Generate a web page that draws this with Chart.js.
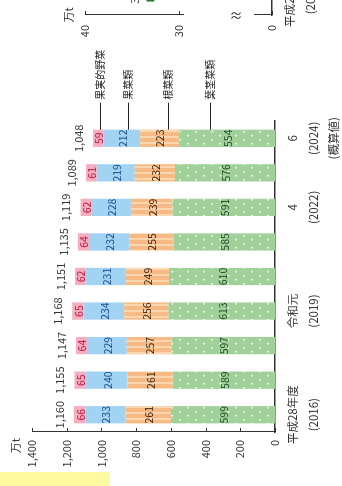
<!DOCTYPE html>
<html lang="ja">
<head>
<meta charset="utf-8">
<script src="https://cdn.jsdelivr.net/npm/chart.js@4.4.1/dist/chart.umd.min.js"></script>
<style>
html, body { margin: 0; padding: 0; background: #fff; width: 342px; height: 486px; overflow: hidden; }
/* the page is laid out upright (486 x 342) and turned a quarter turn */
#page { position: absolute; left: 0; top: 0; width: 486px; height: 342px; overflow: hidden;
        transform-origin: 0 0; transform: translate(0, 486px) rotate(-90deg); }
#marker { position: absolute; left: 0; top: 0; width: 14px; height: 110px; background: #fdf9a0; }
#main { position: absolute; left: 0; top: 0; }
#sub { position: absolute; left: 420px; top: 0; }
</style>
</head>
<body>
<div id="page">
  <div id="marker"></div>
  <canvas id="main" width="440" height="342"></canvas>
  <canvas id="sub" width="380" height="342"></canvas>
</div>
<script>
var years = ['2016', '2017', '2018', '2019', '2020', '2021', '2022', '2023', '2024'];
var axisLabels = [['平成28年度', '(2016)'], '', '', ['令和元', '(2019)'], '', '', ['4', '(2022)'], '', ['6', '(2024)', '(概算値)']];

var leafStem = [599, 589, 597, 613, 610, 585, 591, 576, 554];   // 葉茎菜類
var rootVeg = [261, 261, 257, 256, 249, 255, 239, 232, 223];    // 根菜類
var fruitVeg = [233, 240, 229, 234, 231, 232, 228, 219, 212];   // 果菜類
var fruitLike = [66, 65, 64, 65, 62, 64, 62, 61, 59];           // 果実的野菜
var totals = [1160, 1155, 1147, 1168, 1151, 1135, 1119, 1089, 1048];

var seriesNames = ['葉茎菜類', '根菜類', '果菜類', '果実的野菜'];
var sideValues = [33];

var FONT = '"Noto Sans CJK JP", "Noto Sans", sans-serif';

function dots() {
    var c = document.createElement('canvas');
    c.width = 8; c.height = 16;
    var g = c.getContext('2d');
    g.fillStyle = '#9fd199';
    g.fillRect(0, 0, 8, 16);
    g.fillStyle = '#ffffff';
    g.fillRect(1.5, 3.5, 1.6, 1.6);
    g.fillRect(5.5, 11.5, 1.6, 1.6);
    return g.createPattern(c, 'repeat');
}

function stripes() {
    var c = document.createElement('canvas');
    c.width = 6; c.height = 6;
    var g = c.getContext('2d');
    g.fillStyle = '#f6bb84';
    g.fillRect(0, 0, 6, 6);
    g.fillStyle = '#fbd6ae';
    g.fillRect(0, 0, 2, 6);
    return g.createPattern(c, 'repeat');
}

var textColors = ['#1f4a28', '#3b2814', '#1b4d8a', '#c0163f'];
// where each leader line meets the last bar, in 万t
var leaderAt = [372, 616, 847, 1008];

// unit label and inward tick marks on the value axis
var axisBits = {
    id: 'axisBits',
    afterDraw: function (chart, args, opts) {
        var ctx = chart.ctx, a = chart.chartArea, y = chart.scales.y;
        ctx.save();
        ctx.strokeStyle = '#333';
        ctx.lineWidth = 1;
        y.ticks.forEach(function (t) {
            var py = Math.round(y.getPixelForValue(t.value)) + 0.5;
            ctx.beginPath();
            ctx.moveTo(a.left, py);
            ctx.lineTo(a.left + 4, py);
            ctx.stroke();
        });
        ctx.fillStyle = '#333';
        ctx.font = '11px ' + FONT;
        ctx.textAlign = opts.centered ? 'center' : 'right';
        ctx.textBaseline = 'middle';
        ctx.fillText('万t', opts.centered ? a.left : a.left - 6, a.top - 16);
        ctx.restore();
    }
};

var barText = {
    id: 'barText',
    afterDatasetsDraw: function (chart) {
        var ctx = chart.ctx, ys = chart.scales.y;
        ctx.save();
        ctx.textAlign = 'center';
        ctx.textBaseline = 'middle';
        ctx.font = '10.5px ' + FONT;
        chart.data.datasets.forEach(function (ds, i) {
            ctx.fillStyle = textColors[i];
            chart.getDatasetMeta(i).data.forEach(function (bar, j) {
                ctx.fillText(ds.data[j], bar.x, (bar.y + bar.base) / 2 + 1);
            });
        });

        var top = chart.getDatasetMeta(chart.data.datasets.length - 1).data;
        ctx.fillStyle = '#333';
        ctx.textBaseline = 'bottom';
        ctx.font = '11px ' + FONT;
        top.forEach(function (bar, j) {
            ctx.fillText(totals[j].toLocaleString('en-US'), bar.x, bar.y - 9);
        });

        // series names beside the last bar
        var last = top[top.length - 1];
        var x0 = last.x + last.width / 2;
        ctx.strokeStyle = '#222';
        ctx.lineWidth = 1;
        ctx.fillStyle = '#222';
        ctx.textAlign = 'left';
        ctx.textBaseline = 'middle';
        ctx.font = '10px ' + FONT;
        seriesNames.forEach(function (name, i) {
            var py = Math.round(ys.getPixelForValue(leaderAt[i])) + 0.5;
            ctx.beginPath();
            ctx.moveTo(x0, py);
            ctx.lineTo(x0 + 27, py);
            ctx.stroke();
            ctx.fillText(name, x0 + 30, py);
        });
        ctx.restore();
    }
};

new Chart(document.getElementById('main'), {
    type: 'bar',
    data: {
        labels: years,
        datasets: [
            { label: seriesNames[0], data: leafStem, backgroundColor: dots() },
            { label: seriesNames[1], data: rootVeg, backgroundColor: stripes() },
            { label: seriesNames[2], data: fruitVeg, backgroundColor: '#a3d3f3' },
            { label: seriesNames[3], data: fruitLike, backgroundColor: '#f5adc0' }
        ]
    },
    options: {
        responsive: false,
        animation: false,
        devicePixelRatio: 1,
        layout: { padding: { top: 32, right: 75, left: 0, bottom: 0 } },
        datasets: { bar: { barPercentage: 0.5, categoryPercentage: 1, borderWidth: 0 } },
        plugins: { legend: { display: false }, tooltip: { enabled: false }, axisBits: { centered: false } },
        scales: {
            x: {
                stacked: true,
                grid: { display: false, drawTicks: false },
                border: { display: true, color: '#333', width: 1.5 },
                afterFit: function (s) { s.height = 67; },
                ticks: {
                    autoSkip: false, maxRotation: 0, minRotation: 0, padding: 8,
                    color: '#333',
                    font: { family: FONT, size: 11.5, lineHeight: 1.75 },
                    callback: function (v, i) { return axisLabels[i]; }
                }
            },
            y: {
                stacked: true,
                min: 0,
                max: 1400,
                grid: { display: false, drawTicks: false },
                border: { display: true, color: '#333', width: 1 },
                afterFit: function (s) { s.width = 54; },
                ticks: {
                    stepSize: 200, padding: 8, color: '#333',
                    font: { family: FONT, size: 11 },
                    callback: function (v) { return v.toLocaleString('en-US'); }
                }
            }
        }
    },
    plugins: [barText, axisBits]
});

// next panel, cut off at the edge of the page
var sideBits = {
    id: 'sideBits',
    afterDraw: function (chart) {
        var ctx = chart.ctx, a = chart.chartArea;
        var pt = chart.getDatasetMeta(0).data[0];
        ctx.save();
        // axis break between 0 and 30
        ctx.fillStyle = '#fff';
        ctx.fillRect(a.left - 3, 184, 6, 70);
        ctx.translate(a.left, 236);
        ctx.rotate(Math.PI / 2);
        ctx.fillStyle = '#333';
        ctx.font = '13px ' + FONT;
        ctx.textAlign = 'center';
        ctx.textBaseline = 'middle';
        ctx.fillText('≈', 0, 0);
        ctx.restore();

        ctx.save();
        ctx.fillStyle = '#333';
        ctx.font = '11px ' + FONT;
        ctx.textAlign = 'center';
        ctx.textBaseline = 'bottom';
        ctx.fillText(sideValues[0], pt.x, pt.y - 10);
        ctx.restore();
    }
};

new Chart(document.getElementById('sub'), {
    type: 'line',
    data: {
        labels: years,
        datasets: [{
            data: sideValues,
            borderColor: '#1f7a35',
            backgroundColor: '#1f7a35',
            pointStyle: 'rect',
            pointRadius: 4,
            borderWidth: 2
        }]
    },
    options: {
        responsive: false,
        animation: false,
        devicePixelRatio: 1,
        layout: { padding: { top: 85, right: 18, left: 0, bottom: 0 } },
        plugins: { legend: { display: false }, tooltip: { enabled: false }, axisBits: { centered: true } },
        scales: {
            x: {
                offset: true,
                grid: { display: false, drawTicks: false },
                border: { display: true, color: '#333', width: 1.5 },
                afterFit: function (s) { s.height = 70; },
                ticks: {
                    autoSkip: false, maxRotation: 0, minRotation: 0, padding: 8,
                    color: '#333',
                    font: { family: FONT, size: 11.5, lineHeight: 1.75 },
                    callback: function (v, i) { return axisLabels[i]; }
                }
            },
            y: {
                min: 20,
                max: 40,
                grid: { display: false, drawTicks: false },
                border: { display: true, color: '#333', width: 1 },
                afterFit: function (s) { s.width = 51; },
                afterBuildTicks: function (s) { s.ticks = [{ value: 20 }, { value: 30 }, { value: 40 }]; },
                ticks: {
                    padding: 10, color: '#333',
                    font: { family: FONT, size: 11 },
                    callback: function (v) { return v === 20 ? '0' : v; }
                }
            }
        }
    },
    plugins: [sideBits, axisBits]
});
</script>
</body>
</html>
